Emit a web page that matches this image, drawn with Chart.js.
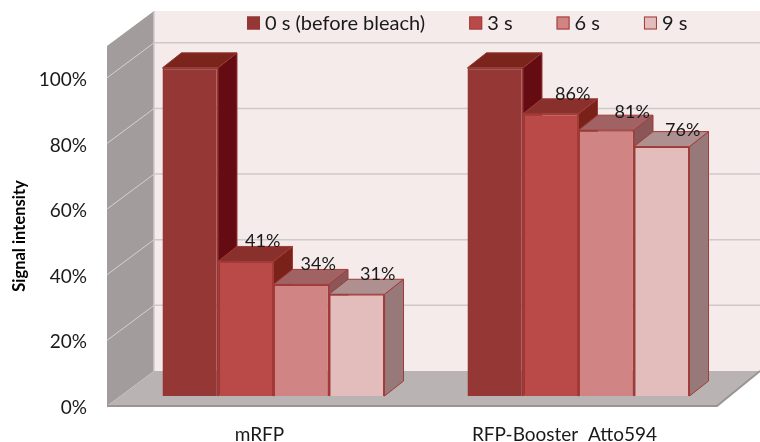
<!DOCTYPE html>
<html><head><meta charset="utf-8">
<style>html,body{margin:0;padding:0;background:#fff}#w{width:760px;height:442px}</style>
<script src="https://cdn.jsdelivr.net/npm/chart.js@4"></script>
</head><body><div id="w"><canvas id="c"></canvas></div>
<script>
const categories = ['mRFP', 'RFP-Booster  Atto594'];
const seriesNames = ['0 s (before bleach)', '3 s', '6 s', '9 s'];
const s0 = [100, 100];
const s3 = [41, 86];
const s6 = [34, 81];
const s9 = [31, 76];
const yTicks = [0, 20, 40, 60, 80, 100];
const yTitle = 'Signal intensity';
const frontColors = ['#953735', '#BA4A47', '#D08484', '#E2BDBB'];
const topColors = ['#7A241C', '#8A302C', '#A06262', '#AE9090'];
const sideColors = ['#640C12', '#7A2219', '#8A5658', '#97797A'];
const edgeColors = ['#953735', '#A23B38', '#A23B38', '#A23B38'];

const FONT = 'Lato, "Open Sans", sans-serif';
const INK = '#1a1a1a';
const WALL = {dx: 47, dy: -35, dxRight: 43};
const BAR = {tx: 14, ty: -10, dx: 19, dy: -15};
const LEGEND = {x: 247, y: 23, box: 13, gapText: 5, gapItem: 44, size: 20};
const LABEL_SHIFT = [null, [[-3, 0], [2, 0]], [[-3, 0], [6, 2]], [[1, 0], [1, 4]]];

function poly(ctx, pts, fill, stroke, lw) {
  ctx.beginPath();
  pts.forEach((p, i) => i ? ctx.lineTo(p[0], p[1]) : ctx.moveTo(p[0], p[1]));
  ctx.closePath();
  if (fill) { ctx.fillStyle = fill; ctx.fill(); }
  if (stroke) { ctx.strokeStyle = stroke; ctx.lineWidth = lw || 1; ctx.stroke(); }
}

const box3d = {
  id: 'box3d',
  beforeDraw(chart) {
    const {ctx, chartArea: a, scales: {y}} = chart;
    const b = y.getPixelForValue(0), t = y.getPixelForValue(y.max);
    ctx.save();
    poly(ctx, [[a.left + WALL.dx, t + WALL.dy], [chart.width, t + WALL.dy], [chart.width, b + WALL.dy], [a.left + WALL.dx, b + WALL.dy]], '#F5EBEA');
    yTicks.slice(1).forEach(v => {
      const py = y.getPixelForValue(v);
      ctx.strokeStyle = '#CFCACA'; ctx.lineWidth = 1.5;
      ctx.beginPath(); ctx.moveTo(a.left + WALL.dx, py + WALL.dy); ctx.lineTo(chart.width, py + WALL.dy); ctx.stroke();
    });
    poly(ctx, [[a.left, t], [a.left + WALL.dx, t + WALL.dy], [a.left + WALL.dx, b + WALL.dy], [a.left, b]], '#A29C9C');
    yTicks.slice(1).forEach(v => {
      const py = y.getPixelForValue(v);
      ctx.strokeStyle = '#D5D2D2'; ctx.lineWidth = 1;
      ctx.beginPath(); ctx.moveTo(a.left, py); ctx.lineTo(a.left + WALL.dx, py + WALL.dy); ctx.stroke();
    });
    ctx.strokeStyle = '#CFCACA'; ctx.lineWidth = 1.5;
    ctx.beginPath(); ctx.moveTo(a.left + WALL.dx, t + WALL.dy); ctx.lineTo(a.left + WALL.dx, b + WALL.dy); ctx.stroke();
    poly(ctx, [[a.left, b], [a.left + WALL.dx, b + WALL.dy], [a.right + WALL.dxRight, b + WALL.dy], [a.right, b]], '#BAB3B3');
    ctx.strokeStyle = '#999595'; ctx.lineWidth = 2;
    ctx.beginPath(); ctx.moveTo(a.left, b); ctx.lineTo(a.right, b); ctx.lineTo(a.right + WALL.dxRight, b + WALL.dy); ctx.stroke();

    // legend
    ctx.font = LEGEND.size + 'px ' + FONT;
    ctx.textBaseline = 'middle';
    ctx.textAlign = 'left';
    let lx = LEGEND.x;
    seriesNames.forEach((name, i) => {
      ctx.fillStyle = frontColors[i];
      ctx.fillRect(lx, LEGEND.y - LEGEND.box / 2, LEGEND.box, LEGEND.box);
      ctx.strokeStyle = edgeColors[i]; ctx.lineWidth = 1;
      ctx.strokeRect(lx + .5, LEGEND.y - LEGEND.box / 2 + .5, LEGEND.box - 1, LEGEND.box - 1);
      ctx.fillStyle = INK;
      const tx = lx + LEGEND.box + LEGEND.gapText;
      ctx.fillText(name, tx, LEGEND.y + 1);
      lx = tx + ctx.measureText(name).width + LEGEND.gapItem;
    });

    // y axis title
    ctx.translate(20, 236);
    ctx.rotate(-Math.PI / 2);
    ctx.font = 'bold 16.5px ' + FONT;
    ctx.fillStyle = '#000';
    ctx.textAlign = 'center';
    ctx.fillText(yTitle, 0, 0);
    ctx.restore();
  },
  // Default order would paint the last series on top; the stepped 3D look needs the first series at the back.
  beforeDatasetDraw() { return false; },
  afterDatasetsDraw(chart) {
    const {ctx} = chart;
    ctx.save();
    ctx.translate(BAR.tx, BAR.ty);
    chart.data.datasets.forEach((ds, i) => {
      const meta = chart.getDatasetMeta(i);
      meta.data.forEach(el => {
        const {x, y, width, base} = el.getProps(['x', 'y', 'width', 'base'], true);
        const l = x - width / 2, r = x + width / 2;
        poly(ctx, [[r, y], [r + BAR.dx, y + BAR.dy], [r + BAR.dx, base + BAR.dy], [r, base]], sideColors[i], edgeColors[i], 1);
        poly(ctx, [[l, y], [l + BAR.dx, y + BAR.dy], [r + BAR.dx, y + BAR.dy], [r, y]], topColors[i], edgeColors[i], 1);
      });
      meta.controller.draw();
    });
    ctx.font = '18px ' + FONT;
    ctx.fillStyle = INK;
    ctx.textAlign = 'center';
    ctx.textBaseline = 'middle';
    chart.data.datasets.forEach((ds, i) => {
      if (i === 0) return;
      chart.getDatasetMeta(i).data.forEach((el, j) => {
        const {x, y} = el.getProps(['x', 'y'], true);
        const [sx, sy] = LABEL_SHIFT[i][j];
        ctx.fillText(ds.data[j] + '%', x + 20 + sx, y - 20 + sy);
      });
    });
    ctx.restore();
  }
};

new Chart(document.getElementById('c'), {
  type: 'bar',
  plugins: [box3d],
  data: {
    labels: categories,
    datasets: [s0, s3, s6, s9].map((d, i) => ({
      label: seriesNames[i],
      data: d,
      backgroundColor: frontColors[i],
      borderColor: edgeColors[i],
      borderWidth: 1.5
    }))
  },
  options: {
    responsive: true,
    maintainAspectRatio: false,
    animation: false,
    events: [],
    layout: {padding: {top: 46, right: 43, left: 0, bottom: 0}},
    datasets: {bar: {categoryPercentage: 0.728, barPercentage: 1}},
    plugins: {
      tooltip: {enabled: false},
      legend: {display: false}
    },
    scales: {
      x: {
        grid: {display: false, drawTicks: false},
        border: {display: false},
        ticks: {color: INK, padding: 17, font: {family: FONT, size: 19}, maxRotation: 0},
        afterFit: s => { s.height = 36; }
      },
      y: {
        min: 0, max: 109.7,
        grid: {display: false, drawTicks: false},
        border: {display: false},
        afterBuildTicks: s => { s.ticks = yTicks.map(v => ({value: v})); },
        ticks: {color: INK, padding: 20, labelOffset: 2, font: {family: FONT, size: 19}, callback: v => v + '%'},
        afterFit: s => { s.width = 107; }
      }
    }
  }
});
</script></body></html>
